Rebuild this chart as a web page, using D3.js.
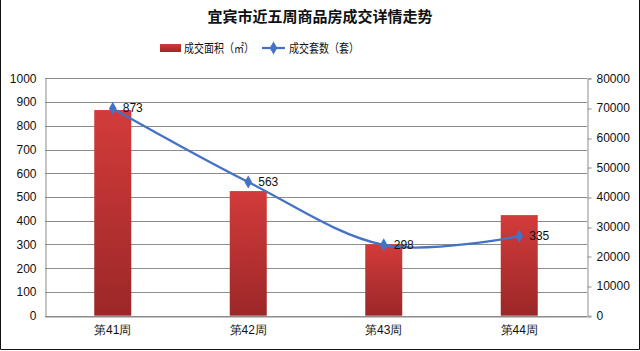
<!DOCTYPE html>
<html><head><meta charset="utf-8">
<script src="https://cdn.jsdelivr.net/npm/d3@7"></script>
<style>html,body{margin:0;padding:0;background:#fff;}svg{display:block;font-family:"Noto Sans CJK SC","Microsoft YaHei",sans-serif;}</style>
</head><body>
<svg id="c" width="640" height="351"></svg>
<script>
const categories = ["第41周","第42周","第43周","第44周"];
const areaValues = [69300, 42000, 24100, 33900];   // 成交面积（㎡） right axis
const setValues = [873, 563, 298, 335];            // 成交套数（套） left axis
const leftTicks = [0,100,200,300,400,500,600,700,800,900,1000];
const rightTicks = [0,10000,20000,30000,40000,50000,60000,70000,80000];
const title = "宜宾市近五周商品房成交详情走势";
const legendLabels = ["成交面积（㎡）","成交套数（套）"];

const svg = d3.select("#c");
const L = 45, R = 587, T = 78.3, B = 315.7;

const x = d3.scaleBand().domain(categories).range([L, R]);
const yL = d3.scaleLinear().domain([0,1000]).range([B, T]);
const yR = d3.scaleLinear().domain([0,80000]).range([B, T]);

const defs = svg.append("defs");
const g = defs.append("linearGradient").attr("id","bg").attr("x1",0).attr("y1",0).attr("x2",0).attr("y2",1);
g.append("stop").attr("offset","0%").attr("stop-color","#D33B3B");
g.append("stop").attr("offset","100%").attr("stop-color","#9C2727");

// border
svg.append("path").attr("d","M0.5,0 V349.5 H639.5 V0").attr("fill","none").attr("stroke","#111").attr("stroke-width",1);

// title
svg.append("text").attr("x",320).attr("y",22).attr("text-anchor","middle")
  .attr("font-size",15).attr("font-weight","bold").attr("fill","#111").text(title);

// gridlines
svg.append("g").selectAll("line").data(leftTicks).join("line")
  .attr("x1",L).attr("x2",R).attr("y1",d=>Math.round(yL(d))+0.5).attr("y2",d=>Math.round(yL(d))+0.5)
  .attr("stroke","#8c8c8c").attr("stroke-width",1);

// left axis
const la = svg.append("g").attr("transform",`translate(${L+0.5},0)`)
  .call(d3.axisLeft(yL).tickValues(leftTicks).tickSize(0).tickPadding(9).tickFormat(d3.format("d")));
la.select(".domain").attr("stroke","#8c8c8c");
la.selectAll("text").attr("font-size",12).attr("fill","#111").attr("font-family","Liberation Sans, Arial, sans-serif");

// right axis
const ra = svg.append("g").attr("transform",`translate(${R+0.5},0)`)
  .call(d3.axisRight(yR).tickValues(rightTicks).tickSize(4).tickPadding(5).tickFormat(d3.format("d")));
ra.select(".domain").attr("stroke","#8c8c8c");
ra.selectAll(".tick line").attr("stroke","#8c8c8c").attr("transform",d=>`translate(0,${Math.round(yR(d))+0.5-yR(d)})`);
ra.selectAll("text").attr("font-size",12).attr("fill","#111").attr("font-family","Liberation Sans, Arial, sans-serif");

// bars
const bw = 37;
svg.append("g").selectAll("rect").data(areaValues).join("rect")
  .attr("x",(d,i)=>x(categories[i])+x.bandwidth()/2-bw/2)
  .attr("width",bw)
  .attr("y",d=>yR(d)).attr("height",d=>B-yR(d))
  .attr("fill","url(#bg)");

// bottom axis
const ba = svg.append("g").attr("transform",`translate(0,${Math.round(B)+0.5})`)
  .call(d3.axisBottom(x).tickSize(0).tickPadding(9));
ba.select(".domain").attr("stroke","#8c8c8c");
ba.selectAll("text").attr("font-size",12).attr("fill","#111");

// line
const pts = setValues.map((v,i)=>[x(categories[i])+x.bandwidth()/2, yL(v)]);
svg.append("path").datum(pts)
  .attr("d", d3.line().curve(d3.curveCatmullRom.alpha(0)))
  .attr("fill","none").attr("stroke","#4472C4").attr("stroke-width",2.25);
const diamond = d3.symbol().type(d3.symbolDiamond).size(50);
svg.append("g").selectAll("path").data(pts).join("path")
  .attr("d",diamond).attr("transform",d=>`translate(${d[0]},${d[1]})`).attr("fill","#4472C4");
svg.append("g").selectAll("text").data(setValues).join("text")
  .attr("x",(d,i)=>pts[i][0]+10).attr("y",(d,i)=>pts[i][1]+4)
  .attr("font-size",12).attr("fill","#111").attr("font-family","Liberation Sans, Arial, sans-serif")
  .text(d=>d);

// legend
const lg = svg.append("g");
lg.append("rect").attr("x",160).attr("y",44).attr("width",21).attr("height",8).attr("fill","url(#bg)");
lg.append("text").attr("x",184).attr("y",52.5).attr("font-size",12).attr("fill","#111")
  .attr("textLength",70).attr("lengthAdjust","spacingAndGlyphs").text(legendLabels[0]);
lg.append("line").attr("x1",262).attr("x2",285).attr("y1",48).attr("y2",48).attr("stroke","#4472C4").attr("stroke-width",2.25);
lg.append("path").attr("d",diamond).attr("transform","translate(273.5,48)").attr("fill","#4472C4");
lg.append("text").attr("x",289).attr("y",52.5).attr("font-size",12).attr("fill","#111")
  .attr("textLength",70).attr("lengthAdjust","spacingAndGlyphs").text(legendLabels[1]);
</script>
</body></html>
